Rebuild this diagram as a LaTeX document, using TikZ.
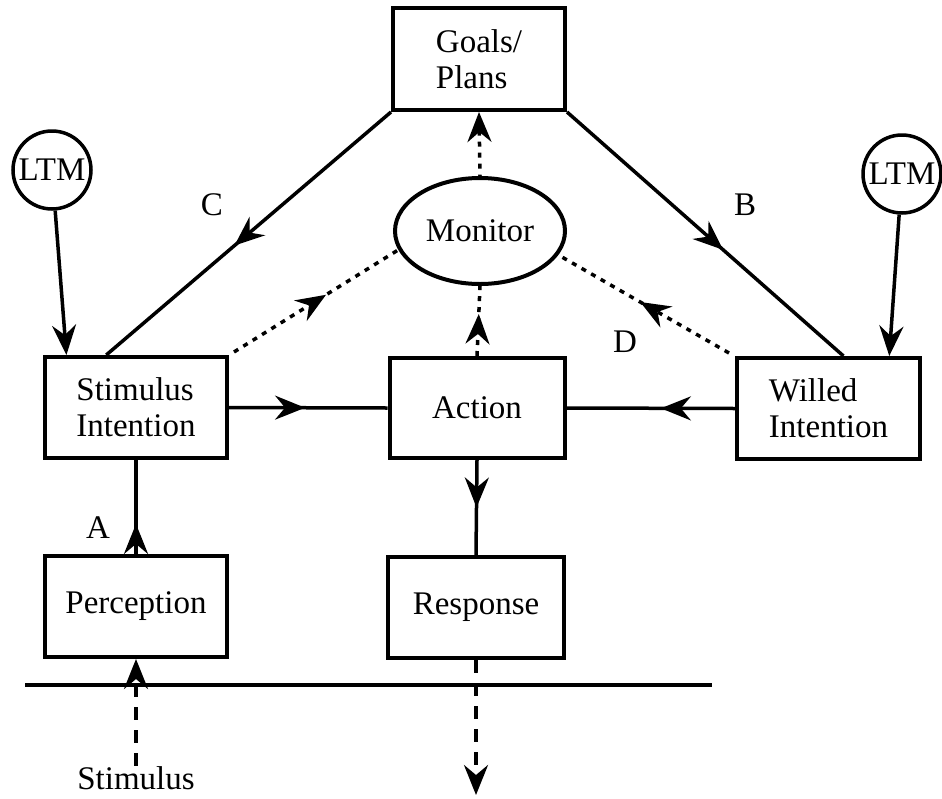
\documentclass[tikz,border=0pt]{standalone}
\usepackage{fontspec}
\newfontfamily\tnr{LiberationSerif}[Extension=.ttf, UprightFont=*-Regular]
\usetikzlibrary{arrows.meta,shapes.geometric,calc,decorations.markings}
\begin{document}
\begin{tikzpicture}[x=1pt,y=-1pt,
  every node/.style={font=\tnr\fontsize{33}{36}\selectfont},
  box/.style={draw, line width=4pt, inner sep=0pt, align=left},
  ltm/.style={draw, circle, line width=3.5pt, minimum size=78pt, inner sep=0pt},
  conn/.style={line width=3.5pt},
  tipend/.style={-{Stealth[length=30pt,width=24pt,inset=10pt]}},
  tipstart/.style={{Stealth[length=30pt,width=24pt,inset=10pt]}-},
  midarrow/.style={postaction={decorate, decoration={markings, mark=at position #1 with {\arrow{Stealth[length=30pt,width=24pt,inset=10pt]}}}}},
  dots/.style={dash pattern=on 5pt off 6pt},
  dashes/.style={dash pattern=on 13pt off 10pt},
  lbl/.style={inner sep=0pt}
]
\useasboundingbox (0,0) rectangle (942,798);

% nodes
\node[box, minimum width=172pt, minimum height=102pt] (goals) at (479,59) {Goals/\\Plans};
\node[ltm] (ltmL) at (52,170) {LTM};
\node[ltm] (ltmR) at (902,174) {LTM};
\node[draw, ellipse, line width=4pt, minimum width=170pt, minimum height=106pt, inner sep=0pt] (monitor) at (480,231) {Monitor};
\node[box, minimum width=182pt, minimum height=101pt] (stim) at (136,407.5) {Stimulus\\Intention};
\node[box, minimum width=175pt, minimum height=100pt] (action) at (477,408) {Action};
\node[box, minimum width=183pt, minimum height=101pt] (willed) at (828.5,408.5) {Willed\\Intention};
\node[box, minimum width=182pt, minimum height=101pt] (percep) at (136,606.5) {Perception};
\node[box, minimum width=176pt, minimum height=101pt] (resp) at (476,607.5) {Response};
\node[lbl, anchor=base] (stimulus) at (136,789) {Stimulus};

% labels
\node[lbl] (labC) at (212,205) {C};
\node[lbl] (labB) at (745,205) {B};
\node[lbl] (labD) at (625,342) {D};
\node[lbl] (labA) at (98,528) {A};

% coordinates
\coordinate (cEnd) at ($(stim.north west)!0.34!(stim.north east)$);
\coordinate (bEnd) at ($(willed.north west)!0.58!(willed.north east)$);
\coordinate (lEnd) at ($(stim.north west)!0.126!(stim.north east)$);
\coordinate (rEnd) at ($(willed.north west)!0.825!(willed.north east)$);
\coordinate (sStart) at ([shift={(5,-3)}]stim.north east);
\coordinate (wStart) at ([shift={(-6,-3)}]willed.north west);
\coordinate (respEnd) at (476,795);
\coordinate (lineL) at (25,685);
\coordinate (lineR) at (712,685);

% LTM arrows
\draw[conn, tipend] (ltmL) -- (lEnd);
\draw[conn, tipend] (ltmR) -- (rEnd);

% goals lines
\draw[conn, midarrow=0.55] (goals.south west) -- (cEnd);
\draw[conn, midarrow=0.565] (goals.south east) -- (bEnd);

% dotted monitor lines
\draw[conn, dots, tipstart] (goals.south) -- (monitor.north);
\draw[conn, dots, midarrow=0.56] (sStart) -- (monitor.193);
\draw[conn, dots, midarrow=0.52] (wStart) -- (monitor.343);
\draw[conn, dots, midarrow=0.6] (action.north) -- (monitor.south);

% horizontal
\draw[conn, midarrow=0.48] (stim.east) -- (action.west);
\draw[conn, midarrow=0.44] (willed.west) -- (action.east);
\draw[conn, midarrow=0.5] (action.south) -- (resp.north);
\draw[conn, midarrow=0.32] (percep.north) -- (stim.south);

% boundary line
\draw[conn] (lineL) -- (lineR);

% stimulus / response
\draw[conn, dashes, tipend] (stimulus.north) -- (percep.south);
\draw[conn, dashes, tipend] (resp.south) -- (respEnd);
\end{tikzpicture}
\end{document}
